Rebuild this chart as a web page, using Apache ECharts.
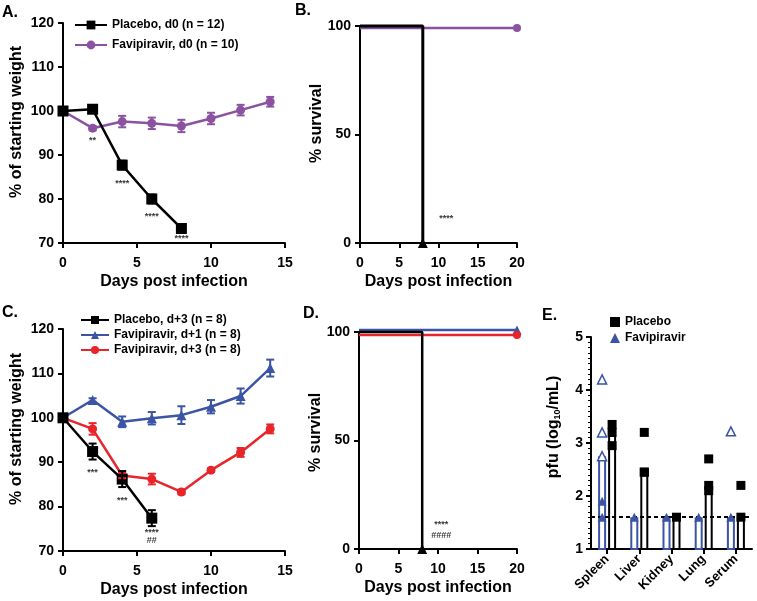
<!DOCTYPE html>
<html><head><meta charset="utf-8">
<script src="https://cdn.jsdelivr.net/npm/echarts@6/dist/echarts.min.js"></script>
<style>html,body{margin:0;padding:0;background:#fff}#c{width:757px;height:601px}</style>
</head><body><div id="c"></div>
<script>
const FONT = '"Liberation Sans", Arial, sans-serif';
const PURPLE = '#8b52a1', BLUE = '#3b54a4', RED = '#e8252a', BLACK = '#000';

// ---- Panel A: weight, treatment d0 ----
const daysA = [0, 2, 4, 6, 8, 10, 12, 14];
const placeboA = [100, 100.4, 87.7, 80.0, 73.3];
const placeboAErr = [0, 0.4, 1.0, 1.0, 0.8];
const favA = [100, 96.1, 97.6, 97.2, 96.6, 98.3, 100.2, 102.1];
const favAErr = [0, 0.5, 1.3, 1.3, 1.4, 1.3, 1.2, 1.1];
const sigADays = [2, 4, 6, 8];
const sigAY = [93.2, 83.6, 76.1, 71.1];
const sigAText = ['**', '****', '****', '****'];

// ---- Panel B: survival, treatment d0 ----
const survDaysPlaceboB = [0, 8, 8];
const survPlaceboB = [100, 100, 0];
const survDaysFavB = [0, 20];
const survFavB = [99.1, 99.1];
const sigBDays = [11];
const sigBY = [11.1];
const sigBText = ['****'];

// ---- Panel C: weight, delayed treatment ----
const daysC = [0, 2, 4, 6, 8, 10, 12, 14];
const placeboC = [100, 92.4, 86.2, 77.4];
const placeboCErr = [0, 1.8, 1.8, 1.8];
const fav1C = [100, 104, 99.1, 99.9, 100.6, 102.5, 104.9, 111.2];
const fav1CErr = [0, 0.4, 1.2, 1.4, 2.0, 1.5, 1.7, 1.9];
const fav3C = [100, 97.5, 87.0, 86.2, 83.3, 88.2, 92.2, 97.5];
const fav3CErr = [0, 1.3, 0.6, 1.2, 0.5, 0.4, 1.0, 1.0];
const sigCDays = [2, 4, 6, 6];
const sigCY = [87.6, 81.3, 74.1, 72.3];
const sigCText = ['***', '***', '****', '##'];

// ---- Panel D: survival, delayed treatment ----
const survDaysPlaceboD = [0, 8, 8];
const survPlaceboD = [100, 100, 0];
const survDaysFavD = [0, 20];
const survFav1D = [100.9, 100.9];
const survFav3D = [98.6, 98.6];
const sigDDays = [10.4, 10.4];
const sigDY = [11.1, 6.0];
const sigDText = ['****', '####'];

// ---- Panel E: tissue titers ----
const organs = ['Spleen', 'Liver', 'Kidney', 'Lung', 'Serum'];
const favBarE = [2.75, 1.6, 1.6, 1.6, 1.6];
const placeboBarE = [3.15, 2.43, 1.6, 2.07, 1.6];
const placeboPtsE = [[3.35, 3.2, 2.95], [3.2, 2.45, 2.45], [1.6], [2.7, 2.2, 2.1], [2.2, 1.6]];
const favFilledPtsE = [[1.6, 1.9], [1.6], [1.6], [1.6], [1.6]];
const favOpenPtsE = [[2.75, 3.2, 4.2], [], [], [], [3.22]];
const limitOfDetection = 1.6;

// ---------- helpers ----------
const axisLineStyle = { show: true, onZero: false, lineStyle: { color: BLACK, width: 2 } };
const axisTickStyle = { show: true, length: 5, lineStyle: { color: BLACK, width: 2 } };
const labelStyle = (m) => ({ color: BLACK, fontWeight: 'bold', fontSize: 14, fontFamily: FONT, margin: m });
const nameStyle = (shift) => ({ color: BLACK, fontWeight: 'bold', fontSize: 16, fontFamily: FONT, padding: [0, 0, 0, shift] });

function xVal(grid, max, name) {
  return { type: 'value', gridIndex: grid, min: 0, max: max, interval: 5,
    axisLine: axisLineStyle, axisTick: axisTickStyle, splitLine: { show: false },
    axisLabel: labelStyle(13), name: name, nameLocation: 'middle', nameGap: 31,
    nameMoveOverlap: false, nameTextStyle: nameStyle(0) };
}
function yVal(grid, min, max, interval, name, gap, shift) {
  return { type: 'value', gridIndex: grid, min: min, max: max, interval: interval,
    axisLine: axisLineStyle, axisTick: axisTickStyle, splitLine: { show: false },
    axisLabel: labelStyle(9), name: name, nameLocation: 'middle', nameGap: gap,
    nameMoveOverlap: false, nameTextStyle: nameStyle(shift) };
}
function pairs(xs, ys) { return ys.map((v, i) => [xs[i], v]); }

function lineSeries(name, axis, xs, ys, color, symbol, size) {
  return { type: 'line', name: name, xAxisIndex: axis, yAxisIndex: axis,
    data: pairs(xs, ys), symbol: symbol, symbolSize: size, showSymbol: true,
    lineStyle: { color: color, width: 2.5 }, itemStyle: { color: color }, z: 3 };
}
function errSeries(axis, xs, ys, errs, color) {
  const data = ys.map((v, i) => [xs[i], v - errs[i], v + errs[i]]).filter(d => d[2] > d[1]);
  return { type: 'custom', xAxisIndex: axis, yAxisIndex: axis, z: 4, silent: true,
    encode: { x: 0, y: [1, 2] }, data: data,
    renderItem: function (params, api) {
      const x = api.value(0);
      const lo = api.coord([x, api.value(1)]), hi = api.coord([x, api.value(2)]);
      const st = { stroke: color, lineWidth: 2 };
      const c = 4;
      return { type: 'group', children: [
        { type: 'line', shape: { x1: lo[0], y1: lo[1], x2: hi[0], y2: hi[1] }, style: st },
        { type: 'line', shape: { x1: lo[0] - c, y1: lo[1], x2: lo[0] + c, y2: lo[1] }, style: st },
        { type: 'line', shape: { x1: hi[0] - c, y1: hi[1], x2: hi[0] + c, y2: hi[1] }, style: st }
      ] };
    } };
}
function sigSeries(axis, xs, ys, texts) {
  return { type: 'scatter', xAxisIndex: axis, yAxisIndex: axis, symbolSize: 1, silent: true,
    itemStyle: { color: 'rgba(0,0,0,0)' }, z: 6,
    data: xs.map((d, i) => ({ value: [d, ys[i]], label: { formatter: texts[i] } })),
    label: { show: true, position: 'inside', fontSize: 9, fontWeight: 'bold', color: BLACK, fontFamily: FONT } };
}
function survSeries(name, axis, xs, ys, color, endSymbol, endSize, width) {
  const data = ys.map((v, i) => {
    const item = { value: [xs[i], v] };
    if (i === ys.length - 1) { item.symbol = endSymbol; item.symbolSize = endSize; }
    return item;
  });
  return { type: 'line', name: name, xAxisIndex: axis, yAxisIndex: axis, data: data, clip: false,
    symbol: 'none', showSymbol: true, lineStyle: { color: color, width: width },
    itemStyle: { color: color }, z: 3 };
}
function ptsData(pts) {
  const out = [];
  pts.forEach((arr, i) => arr.forEach(v => out.push([organs[i], v])));
  return out;
}

const legendText = { fontSize: 12, fontWeight: 'bold', fontFamily: FONT, color: BLACK };

const option = {
  animation: false,
  backgroundColor: '#fff',
  textStyle: { fontFamily: FONT },
  grid: [
    { left: 63, top: 23, width: 222, height: 220 },
    { left: 360, top: 26, width: 157, height: 217 },
    { left: 63, top: 329, width: 222, height: 222 },
    { left: 359, top: 332, width: 158, height: 217 },
    { left: 591, top: 337, width: 161, height: 212 }
  ],
  xAxis: [
    xVal(0, 15, 'Days post infection'),
    xVal(1, 20, 'Days post infection'),
    xVal(2, 15, 'Days post infection'),
    xVal(3, 20, 'Days post infection'),
    { type: 'category', gridIndex: 4, data: organs, boundaryGap: true,
      axisLine: axisLineStyle, axisTick: { show: true, alignWithLabel: true, length: 5, lineStyle: { color: BLACK, width: 2 } },
      axisLabel: { color: BLACK, fontWeight: 'bold', fontSize: 13, fontFamily: FONT, rotate: 45, interval: 0, margin: 8 } }
  ],
  yAxis: [
    yVal(0, 70, 120, 10, '% of starting weight', 38, 22),
    yVal(1, 0, 100, 50, '% survival', 35, 22),
    yVal(2, 70, 120, 10, '% of starting weight', 38, 22),
    yVal(3, 0, 100, 50, '% survival', 35, 16),
    { type: 'value', gridIndex: 4, min: 1, max: 5, interval: 1,
      axisLine: axisLineStyle, axisTick: axisTickStyle, splitLine: { show: false },
      minorTick: { show: true, splitNumber: 10, length: 3, lineStyle: { color: BLACK, width: 1 } },
      axisLabel: labelStyle(8),
      name: '{a|pfu (log}{s|10}{a|/mL)}', nameLocation: 'middle', nameGap: 29, nameMoveOverlap: false,
      nameTextStyle: { padding: [0, 0, 0, 32], rich: {
        a: { fontSize: 16, fontWeight: 'bold', fontFamily: FONT, color: BLACK },
        s: { fontSize: 9, fontWeight: 'bold', fontFamily: FONT, color: BLACK, padding: [7, 0, 0, 0] } } } }
  ],
  legend: [
    { left: 69, top: 14, orient: 'vertical', itemWidth: 32, itemHeight: 11, itemGap: 8,
      data: ['Placebo, d0 (n = 12)', 'Favipiravir, d0 (n = 10)'], textStyle: legendText, selectedMode: false },
    { left: 75, top: 309, orient: 'vertical', itemWidth: 28, itemHeight: 10, itemGap: 3,
      data: ['Placebo, d+3 (n = 8)', 'Favipiravir, d+1 (n = 8)', 'Favipiravir, d+3 (n = 8)'], textStyle: legendText, selectedMode: false },
    { left: 605, top: 311, orient: 'vertical', itemWidth: 10, itemHeight: 10, itemGap: 4,
      data: [{ name: 'Placebo', icon: 'rect' }, { name: 'Favipiravir', icon: 'triangle' }], textStyle: legendText, selectedMode: false }
  ],
  graphic: [
    { type: 'text', left: 2, top: 5, style: { text: 'A.', font: 'bold 16px ' + FONT, fill: BLACK } },
    { type: 'text', left: 295, top: 3, style: { text: 'B.', font: 'bold 16px ' + FONT, fill: BLACK } },
    { type: 'text', left: 2, top: 305, style: { text: 'C.', font: 'bold 16px ' + FONT, fill: BLACK } },
    { type: 'text', left: 303, top: 306, style: { text: 'D.', font: 'bold 16px ' + FONT, fill: BLACK } },
    { type: 'text', left: 542, top: 308, style: { text: 'E.', font: 'bold 16px ' + FONT, fill: BLACK } }
  ],
  series: [
    // A
    lineSeries('Favipiravir, d0 (n = 10)', 0, daysA, favA, PURPLE, 'circle', 9),
    errSeries(0, daysA, favA, favAErr, PURPLE),
    lineSeries('Placebo, d0 (n = 12)', 0, daysA, placeboA, BLACK, 'rect', 11),
    errSeries(0, daysA, placeboA, placeboAErr, BLACK),
    sigSeries(0, sigADays, sigAY, sigAText),
    // B
    survSeries('B favipiravir', 1, survDaysFavB, survFavB, PURPLE, 'circle', 8, 2.5),
    survSeries('B placebo', 1, survDaysPlaceboB, survPlaceboB, BLACK, 'triangle', 10, 3),
    sigSeries(1, sigBDays, sigBY, sigBText),
    // C
    lineSeries('Favipiravir, d+1 (n = 8)', 2, daysC, fav1C, BLUE, 'triangle', 10),
    errSeries(2, daysC, fav1C, fav1CErr, BLUE),
    lineSeries('Favipiravir, d+3 (n = 8)', 2, daysC, fav3C, RED, 'circle', 9),
    errSeries(2, daysC, fav3C, fav3CErr, RED),
    lineSeries('Placebo, d+3 (n = 8)', 2, daysC, placeboC, BLACK, 'rect', 11),
    errSeries(2, daysC, placeboC, placeboCErr, BLACK),
    sigSeries(2, sigCDays, sigCY, sigCText),
    // D
    survSeries('D fav d+1', 3, survDaysFavD, survFav1D, BLUE, 'triangle', 9, 2.5),
    survSeries('D fav d+3', 3, survDaysFavD, survFav3D, RED, 'circle', 8, 2.5),
    survSeries('D placebo', 3, survDaysPlaceboD, survPlaceboD, BLACK, 'triangle', 10, 2.5),
    sigSeries(3, sigDDays, sigDY, sigDText),
    // E
    { type: 'bar', name: 'Fav bars', xAxisIndex: 4, yAxisIndex: 4, data: favBarE, barWidth: 8, barGap: '25%',
      itemStyle: { color: '#fff', borderColor: BLUE, borderWidth: 2 }, z: 2 },
    { type: 'bar', name: 'Placebo bars', xAxisIndex: 4, yAxisIndex: 4, data: placeboBarE, barWidth: 8, barGap: '25%',
      itemStyle: { color: '#fff', borderColor: BLACK, borderWidth: 2 }, z: 2 },
    { type: 'scatter', name: 'Favipiravir', xAxisIndex: 4, yAxisIndex: 4, data: ptsData(favFilledPtsE),
      symbol: 'triangle', symbolSize: 9, symbolOffset: [-5, 0], itemStyle: { color: BLUE, opacity: 1 }, z: 5,
      markLine: { silent: true, symbol: 'none', label: { show: false },
        lineStyle: { color: BLACK, type: [4, 3], width: 2 }, data: [{ yAxis: limitOfDetection }] } },
    { type: 'scatter', name: 'Fav open', xAxisIndex: 4, yAxisIndex: 4, data: ptsData(favOpenPtsE),
      symbol: 'triangle', symbolSize: 9, symbolOffset: [-5, 0],
      itemStyle: { color: '#fff', borderColor: BLUE, borderWidth: 1.5, opacity: 1 }, z: 5 },
    { type: 'scatter', name: 'Placebo', xAxisIndex: 4, yAxisIndex: 4, data: ptsData(placeboPtsE),
      symbol: 'rect', symbolSize: 9, symbolOffset: [5, 0], itemStyle: { color: BLACK, opacity: 1 }, z: 5 }
  ]
};

const chart = echarts.init(document.getElementById('c'), null, { renderer: 'canvas' });
chart.setOption(option);
</script>
</body></html>
